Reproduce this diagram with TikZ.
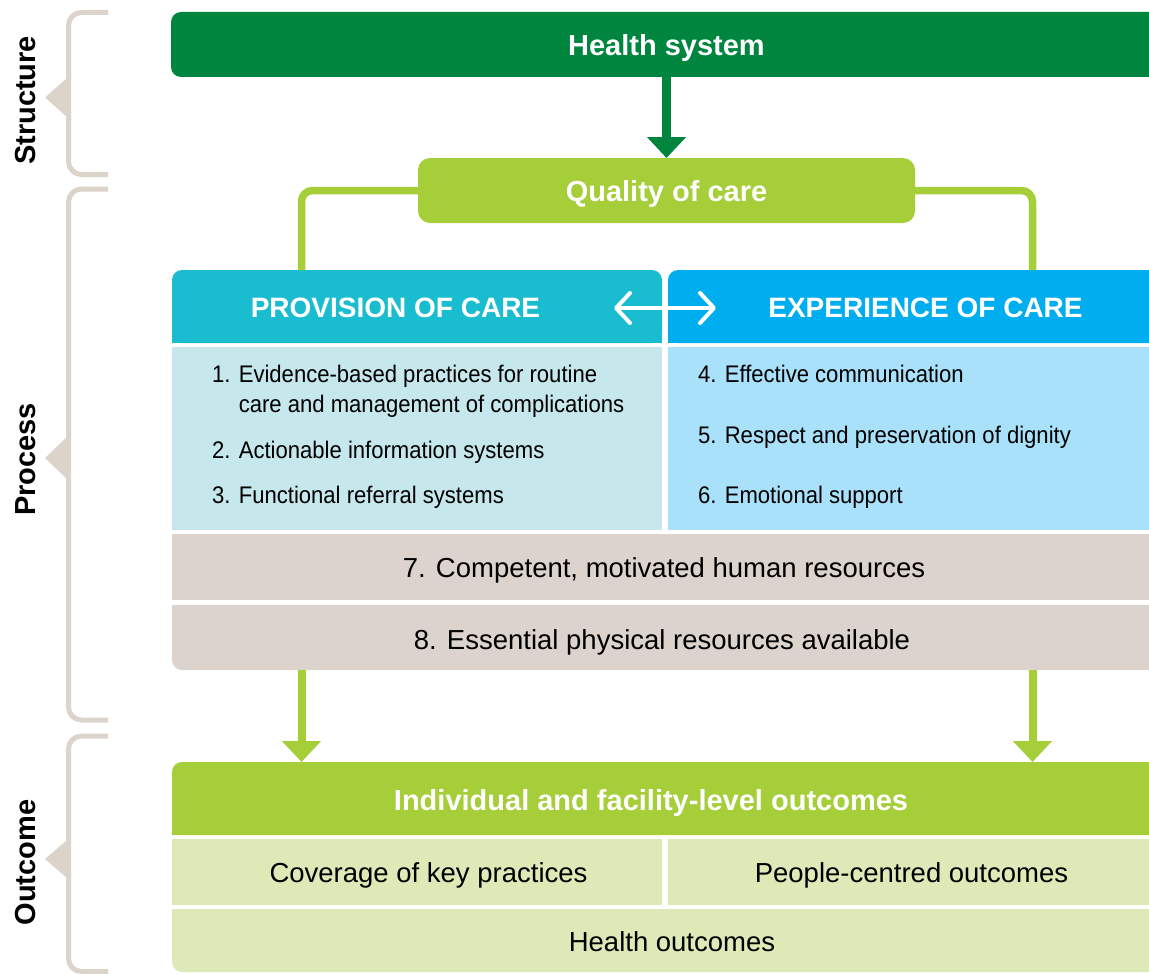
\documentclass[tikz,border=0pt]{standalone}
\usepackage{fontspec}
\setmainfont{Liberation Sans}
\usetikzlibrary{arrows.meta}
\definecolor{dkgreen}{HTML}{00853F}
\definecolor{ltgreen}{HTML}{A6CE39}
\definecolor{provc}{HTML}{1ABDD0}
\definecolor{expc}{HTML}{00AEEF}
\definecolor{provb}{HTML}{C6E7EB}
\definecolor{expb}{HTML}{A9E1FA}
\definecolor{grayb}{HTML}{DCD3CC}
\definecolor{outb}{HTML}{DDEAB7}
\definecolor{brkc}{HTML}{DCD3CB}
\newcommand{\cnd}[1]{\scalebox{0.92}[1]{#1}}
\begin{document}
\begin{tikzpicture}[x=1pt,y=-1pt,
  box/.style={anchor=north west, inner sep=0pt, outer sep=0pt, draw=none},
  hdtext/.style={text=white, inner sep=0pt, font=\bfseries\fontsize{29}{34}\selectfont, text height=21pt, text depth=0pt},
  captext/.style={text=white, inner sep=0pt, font=\bfseries\fontsize{28}{34}\selectfont, text height=20pt, text depth=0pt},
  bodytext/.style={text=black, inner sep=0pt, font=\fontsize{27.5}{32}\selectfont, text height=19.7pt, text depth=0pt},
  itemtext/.style={text=black, inner sep=0pt, anchor=base west, font=\fontsize{24}{30}\selectfont},
  sidetext/.style={text=black, inner sep=0pt, rotate=90, font=\bfseries\fontsize{29}{34}\selectfont, text height=21pt, text depth=0pt},
  bracket/.style={draw=brkc, line width=5pt, rounded corners=13pt},
  gline/.style={draw=ltgreen, line width=7.5pt, rounded corners=11pt},
  garrow/.style={draw=ltgreen, line width=8pt, -{Triangle[length=21pt,width=38pt]}},
  darrow/.style={draw=dkgreen, line width=9pt, -{Triangle[length=21pt,width=38pt]}},
  barb/.style={draw=white, line width=4pt, {Straight Barb[length=14pt,width=30pt,round]}-{Straight Barb[length=14pt,width=30pt,round]}}
]
\useasboundingbox (0,0) rectangle (1149,974);
\clip (0,0) rectangle (1149,974);

% brackets
\draw[bracket] (108,12.5) -- (68.5,12.5) -- (68.5,174.5) -- (108,174.5);
\fill[brkc] (45,97.5) -- (67,78) -- (67,117) -- cycle;
\draw[bracket] (108,189) -- (68.5,189) -- (68.5,720) -- (108,720);
\fill[brkc] (45,458) -- (67,437) -- (67,479) -- cycle;
\draw[bracket] (108,736) -- (68.5,736) -- (68.5,971.5) -- (108,971.5);
\fill[brkc] (45,859) -- (67,840) -- (67,878) -- cycle;
\node[sidetext] (lstruct) at (25,100.5) {Structure};
\node[sidetext] (lproc) at (25,459.5) {Process};
\node[sidetext] (lout) at (25,862.5) {Outcome};

% structure
\node[box, fill=dkgreen, rounded corners=10pt, minimum width=991pt, minimum height=65pt] (health) at (171,12) {};
\node[hdtext] (healtht) at (666.5,45) {Health system};
\node[box, fill=ltgreen, rounded corners=12pt, minimum width=497pt, minimum height=65pt] (quality) at (418,158) {};
\node[hdtext] (qualityt) at (666.5,191) {Quality of care};
\draw[darrow] (health.south) -- (quality.north);

% process headers
\node[box, fill=provc, rounded corners=10pt, minimum width=490pt, minimum height=73pt] (prov) at (172,270) {};
\fill[provc] (172,320) rectangle (662,343);
\node[box, fill=expc, rounded corners=10pt, minimum width=520pt, minimum height=73pt] (exp) at (668,270) {};
\fill[expc] (668,320) rectangle (1188,343);
\node[captext] (provt) at (395.5,307.5) {PROVISION OF CARE};
\node[captext] (expt) at (925.5,307.5) {EXPERIENCE OF CARE};
\coordinate (pl) at (301.5,270);
\coordinate (pr) at (1032.5,270);
\draw[gline] (quality.west) -| (pl);
\draw[gline] (quality.east) -| (pr);
\coordinate (dl) at (614,308);
\coordinate (dr) at (716,308);
\draw[barb] (dl) -- (dr);

% process bodies
\node[box, fill=provb, minimum width=490pt, minimum height=183pt] (provbody) at (172,347) {};
\node[box, fill=expb, minimum width=520pt, minimum height=183pt] (expbody) at (668,347) {};
\node[itemtext] (i1a) at (212,382) {\cnd{1. Evidence-based practices for routine}};
\node[itemtext] (i1b) at (212,412) {\cnd{\phantom{1. }care and management of complications}};
\node[itemtext] (i2) at (212,458) {\cnd{2. Actionable information systems}};
\node[itemtext] (i3) at (212,503) {\cnd{3. Functional referral systems}};
\node[itemtext] (i4) at (698,382) {\cnd{4. Effective communication}};
\node[itemtext] (i5) at (698,443) {\cnd{5. Respect and preservation of dignity}};
\node[itemtext] (i6) at (698,503) {\cnd{6. Emotional support}};

\node[box, fill=grayb, minimum width=1016pt, minimum height=66pt] (hr7) at (172,534) {};
\node[bodytext] (hr7t) at (664,568) {7. Competent, motivated human resources};
\node[box, fill=grayb, rounded corners=10pt, minimum width=1016pt, minimum height=65pt] (hr8) at (172,605) {};
\fill[grayb] (172,605) rectangle (1188,630);
\node[bodytext] (hr8t) at (662,640) {8. Essential physical resources available};

% arrows to outcomes
\node[box, fill=ltgreen, rounded corners=10pt, minimum width=1016pt, minimum height=73pt] (outhdr) at (172,762) {};
\fill[ltgreen] (172,810) rectangle (1188,835);
\draw[garrow] (hr8.south -| pl) -- (outhdr.north -| pl);
\draw[garrow] (hr8.south -| pr) -- (outhdr.north -| pr);
\node[hdtext] (outt) at (651,800) {Individual and facility-level outcomes};

% outcome rows
\node[box, fill=outb, minimum width=490pt, minimum height=66pt] (cov) at (172,839) {};
\node[box, fill=outb, minimum width=520pt, minimum height=66pt] (ppl) at (668,839) {};
\node[bodytext] (covt) at (428.5,873) {Coverage of key practices};
\node[bodytext] (pplt) at (911.5,873) {People-centred outcomes};
\node[box, fill=outb, rounded corners=10pt, minimum width=1016pt, minimum height=63pt] (hout) at (172,909) {};
\fill[outb] (172,909) rectangle (1188,940);
\node[bodytext] (houtt) at (672,942) {Health outcomes};
\end{tikzpicture}
\end{document}
